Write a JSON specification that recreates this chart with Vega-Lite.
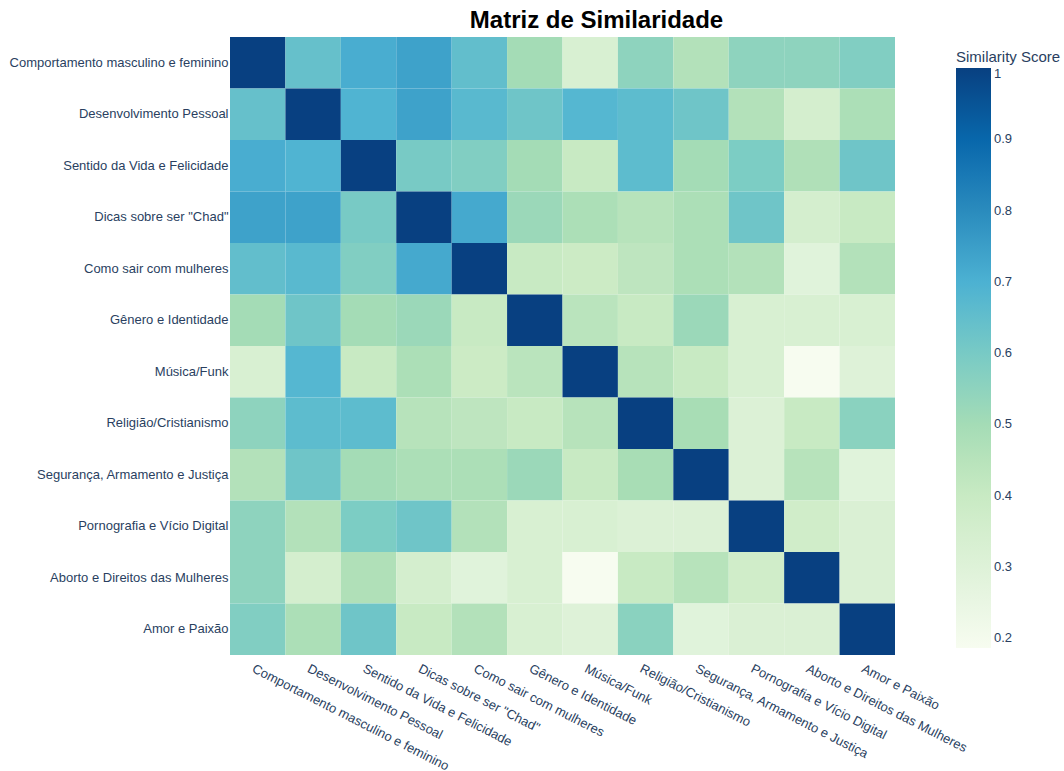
{
  "$schema": "https://vega.github.io/schema/vega-lite/v6.json",
  "autosize": {"type": "none"},
  "padding": {"left": 230, "top": 37, "right": 169, "bottom": 116},
  "width": 665,
  "height": 618,
  "background": "white",
  "title": {"text": "Matriz de Similaridade", "font": "Liberation Sans", "fontSize": 24, "fontWeight": "bold", "color": "#000000", "anchor": "middle", "dx": 34, "offset": 4},
  "config": {"view": {"stroke": null}},
  "datasets": {
    "m": [
      {"y":"Comportamento masculino e feminino","x":"Comportamento masculino e feminino","v":1},
      {"y":"Comportamento masculino e feminino","x":"Desenvolvimento Pessoal","v":0.64},
      {"y":"Comportamento masculino e feminino","x":"Sentido da Vida e Felicidade","v":0.71},
      {"y":"Comportamento masculino e feminino","x":"Dicas sobre ser \"Chad\"","v":0.74},
      {"y":"Comportamento masculino e feminino","x":"Como sair com mulheres","v":0.65},
      {"y":"Comportamento masculino e feminino","x":"Gênero e Identidade","v":0.50},
      {"y":"Comportamento masculino e feminino","x":"Música/Funk","v":0.33},
      {"y":"Comportamento masculino e feminino","x":"Religião/Cristianismo","v":0.55},
      {"y":"Comportamento masculino e feminino","x":"Segurança, Armamento e Justiça","v":0.46},
      {"y":"Comportamento masculino e feminino","x":"Pornografia e Vício Digital","v":0.55},
      {"y":"Comportamento masculino e feminino","x":"Aborto e Direitos das Mulheres","v":0.55},
      {"y":"Comportamento masculino e feminino","x":"Amor e Paixão","v":0.58},

      {"y":"Desenvolvimento Pessoal","x":"Comportamento masculino e feminino","v":0.64},
      {"y":"Desenvolvimento Pessoal","x":"Desenvolvimento Pessoal","v":1},
      {"y":"Desenvolvimento Pessoal","x":"Sentido da Vida e Felicidade","v":0.69},
      {"y":"Desenvolvimento Pessoal","x":"Dicas sobre ser \"Chad\"","v":0.74},
      {"y":"Desenvolvimento Pessoal","x":"Como sair com mulheres","v":0.67},
      {"y":"Desenvolvimento Pessoal","x":"Gênero e Identidade","v":0.62},
      {"y":"Desenvolvimento Pessoal","x":"Música/Funk","v":0.68},
      {"y":"Desenvolvimento Pessoal","x":"Religião/Cristianismo","v":0.66},
      {"y":"Desenvolvimento Pessoal","x":"Segurança, Armamento e Justiça","v":0.62},
      {"y":"Desenvolvimento Pessoal","x":"Pornografia e Vício Digital","v":0.46},
      {"y":"Desenvolvimento Pessoal","x":"Aborto e Direitos das Mulheres","v":0.35},
      {"y":"Desenvolvimento Pessoal","x":"Amor e Paixão","v":0.48},

      {"y":"Sentido da Vida e Felicidade","x":"Comportamento masculino e feminino","v":0.71},
      {"y":"Sentido da Vida e Felicidade","x":"Desenvolvimento Pessoal","v":0.69},
      {"y":"Sentido da Vida e Felicidade","x":"Sentido da Vida e Felicidade","v":1},
      {"y":"Sentido da Vida e Felicidade","x":"Dicas sobre ser \"Chad\"","v":0.60},
      {"y":"Sentido da Vida e Felicidade","x":"Como sair com mulheres","v":0.58},
      {"y":"Sentido da Vida e Felicidade","x":"Gênero e Identidade","v":0.50},
      {"y":"Sentido da Vida e Felicidade","x":"Música/Funk","v":0.40},
      {"y":"Sentido da Vida e Felicidade","x":"Religião/Cristianismo","v":0.66},
      {"y":"Sentido da Vida e Felicidade","x":"Segurança, Armamento e Justiça","v":0.50},
      {"y":"Sentido da Vida e Felicidade","x":"Pornografia e Vício Digital","v":0.59},
      {"y":"Sentido da Vida e Felicidade","x":"Aborto e Direitos das Mulheres","v":0.47},
      {"y":"Sentido da Vida e Felicidade","x":"Amor e Paixão","v":0.62},

      {"y":"Dicas sobre ser \"Chad\"","x":"Comportamento masculino e feminino","v":0.74},
      {"y":"Dicas sobre ser \"Chad\"","x":"Desenvolvimento Pessoal","v":0.74},
      {"y":"Dicas sobre ser \"Chad\"","x":"Sentido da Vida e Felicidade","v":0.60},
      {"y":"Dicas sobre ser \"Chad\"","x":"Dicas sobre ser \"Chad\"","v":1},
      {"y":"Dicas sobre ser \"Chad\"","x":"Como sair com mulheres","v":0.72},
      {"y":"Dicas sobre ser \"Chad\"","x":"Gênero e Identidade","v":0.52},
      {"y":"Dicas sobre ser \"Chad\"","x":"Música/Funk","v":0.48},
      {"y":"Dicas sobre ser \"Chad\"","x":"Religião/Cristianismo","v":0.45},
      {"y":"Dicas sobre ser \"Chad\"","x":"Segurança, Armamento e Justiça","v":0.48},
      {"y":"Dicas sobre ser \"Chad\"","x":"Pornografia e Vício Digital","v":0.62},
      {"y":"Dicas sobre ser \"Chad\"","x":"Aborto e Direitos das Mulheres","v":0.35},
      {"y":"Dicas sobre ser \"Chad\"","x":"Amor e Paixão","v":0.40},

      {"y":"Como sair com mulheres","x":"Comportamento masculino e feminino","v":0.65},
      {"y":"Como sair com mulheres","x":"Desenvolvimento Pessoal","v":0.67},
      {"y":"Como sair com mulheres","x":"Sentido da Vida e Felicidade","v":0.58},
      {"y":"Como sair com mulheres","x":"Dicas sobre ser \"Chad\"","v":0.72},
      {"y":"Como sair com mulheres","x":"Como sair com mulheres","v":1},
      {"y":"Como sair com mulheres","x":"Gênero e Identidade","v":0.40},
      {"y":"Como sair com mulheres","x":"Música/Funk","v":0.39},
      {"y":"Como sair com mulheres","x":"Religião/Cristianismo","v":0.43},
      {"y":"Como sair com mulheres","x":"Segurança, Armamento e Justiça","v":0.48},
      {"y":"Como sair com mulheres","x":"Pornografia e Vício Digital","v":0.46},
      {"y":"Como sair com mulheres","x":"Aborto e Direitos das Mulheres","v":0.29},
      {"y":"Como sair com mulheres","x":"Amor e Paixão","v":0.46},

      {"y":"Gênero e Identidade","x":"Comportamento masculino e feminino","v":0.50},
      {"y":"Gênero e Identidade","x":"Desenvolvimento Pessoal","v":0.62},
      {"y":"Gênero e Identidade","x":"Sentido da Vida e Felicidade","v":0.50},
      {"y":"Gênero e Identidade","x":"Dicas sobre ser \"Chad\"","v":0.52},
      {"y":"Gênero e Identidade","x":"Como sair com mulheres","v":0.40},
      {"y":"Gênero e Identidade","x":"Gênero e Identidade","v":1},
      {"y":"Gênero e Identidade","x":"Música/Funk","v":0.44},
      {"y":"Gênero e Identidade","x":"Religião/Cristianismo","v":0.40},
      {"y":"Gênero e Identidade","x":"Segurança, Armamento e Justiça","v":0.52},
      {"y":"Gênero e Identidade","x":"Pornografia e Vício Digital","v":0.33},
      {"y":"Gênero e Identidade","x":"Aborto e Direitos das Mulheres","v":0.33},
      {"y":"Gênero e Identidade","x":"Amor e Paixão","v":0.33},

      {"y":"Música/Funk","x":"Comportamento masculino e feminino","v":0.33},
      {"y":"Música/Funk","x":"Desenvolvimento Pessoal","v":0.68},
      {"y":"Música/Funk","x":"Sentido da Vida e Felicidade","v":0.40},
      {"y":"Música/Funk","x":"Dicas sobre ser \"Chad\"","v":0.48},
      {"y":"Música/Funk","x":"Como sair com mulheres","v":0.39},
      {"y":"Música/Funk","x":"Gênero e Identidade","v":0.44},
      {"y":"Música/Funk","x":"Música/Funk","v":1},
      {"y":"Música/Funk","x":"Religião/Cristianismo","v":0.45},
      {"y":"Música/Funk","x":"Segurança, Armamento e Justiça","v":0.40},
      {"y":"Música/Funk","x":"Pornografia e Vício Digital","v":0.33},
      {"y":"Música/Funk","x":"Aborto e Direitos das Mulheres","v":0.187},
      {"y":"Música/Funk","x":"Amor e Paixão","v":0.30},

      {"y":"Religião/Cristianismo","x":"Comportamento masculino e feminino","v":0.55},
      {"y":"Religião/Cristianismo","x":"Desenvolvimento Pessoal","v":0.66},
      {"y":"Religião/Cristianismo","x":"Sentido da Vida e Felicidade","v":0.66},
      {"y":"Religião/Cristianismo","x":"Dicas sobre ser \"Chad\"","v":0.45},
      {"y":"Religião/Cristianismo","x":"Como sair com mulheres","v":0.43},
      {"y":"Religião/Cristianismo","x":"Gênero e Identidade","v":0.40},
      {"y":"Religião/Cristianismo","x":"Música/Funk","v":0.45},
      {"y":"Religião/Cristianismo","x":"Religião/Cristianismo","v":1},
      {"y":"Religião/Cristianismo","x":"Segurança, Armamento e Justiça","v":0.49},
      {"y":"Religião/Cristianismo","x":"Pornografia e Vício Digital","v":0.31},
      {"y":"Religião/Cristianismo","x":"Aborto e Direitos das Mulheres","v":0.40},
      {"y":"Religião/Cristianismo","x":"Amor e Paixão","v":0.56},

      {"y":"Segurança, Armamento e Justiça","x":"Comportamento masculino e feminino","v":0.46},
      {"y":"Segurança, Armamento e Justiça","x":"Desenvolvimento Pessoal","v":0.62},
      {"y":"Segurança, Armamento e Justiça","x":"Sentido da Vida e Felicidade","v":0.50},
      {"y":"Segurança, Armamento e Justiça","x":"Dicas sobre ser \"Chad\"","v":0.48},
      {"y":"Segurança, Armamento e Justiça","x":"Como sair com mulheres","v":0.48},
      {"y":"Segurança, Armamento e Justiça","x":"Gênero e Identidade","v":0.52},
      {"y":"Segurança, Armamento e Justiça","x":"Música/Funk","v":0.40},
      {"y":"Segurança, Armamento e Justiça","x":"Religião/Cristianismo","v":0.49},
      {"y":"Segurança, Armamento e Justiça","x":"Segurança, Armamento e Justiça","v":1},
      {"y":"Segurança, Armamento e Justiça","x":"Pornografia e Vício Digital","v":0.31},
      {"y":"Segurança, Armamento e Justiça","x":"Aborto e Direitos das Mulheres","v":0.45},
      {"y":"Segurança, Armamento e Justiça","x":"Amor e Paixão","v":0.29},

      {"y":"Pornografia e Vício Digital","x":"Comportamento masculino e feminino","v":0.55},
      {"y":"Pornografia e Vício Digital","x":"Desenvolvimento Pessoal","v":0.46},
      {"y":"Pornografia e Vício Digital","x":"Sentido da Vida e Felicidade","v":0.59},
      {"y":"Pornografia e Vício Digital","x":"Dicas sobre ser \"Chad\"","v":0.62},
      {"y":"Pornografia e Vício Digital","x":"Como sair com mulheres","v":0.46},
      {"y":"Pornografia e Vício Digital","x":"Gênero e Identidade","v":0.33},
      {"y":"Pornografia e Vício Digital","x":"Música/Funk","v":0.33},
      {"y":"Pornografia e Vício Digital","x":"Religião/Cristianismo","v":0.31},
      {"y":"Pornografia e Vício Digital","x":"Segurança, Armamento e Justiça","v":0.31},
      {"y":"Pornografia e Vício Digital","x":"Pornografia e Vício Digital","v":1},
      {"y":"Pornografia e Vício Digital","x":"Aborto e Direitos das Mulheres","v":0.37},
      {"y":"Pornografia e Vício Digital","x":"Amor e Paixão","v":0.32},

      {"y":"Aborto e Direitos das Mulheres","x":"Comportamento masculino e feminino","v":0.55},
      {"y":"Aborto e Direitos das Mulheres","x":"Desenvolvimento Pessoal","v":0.35},
      {"y":"Aborto e Direitos das Mulheres","x":"Sentido da Vida e Felicidade","v":0.47},
      {"y":"Aborto e Direitos das Mulheres","x":"Dicas sobre ser \"Chad\"","v":0.35},
      {"y":"Aborto e Direitos das Mulheres","x":"Como sair com mulheres","v":0.29},
      {"y":"Aborto e Direitos das Mulheres","x":"Gênero e Identidade","v":0.33},
      {"y":"Aborto e Direitos das Mulheres","x":"Música/Funk","v":0.187},
      {"y":"Aborto e Direitos das Mulheres","x":"Religião/Cristianismo","v":0.40},
      {"y":"Aborto e Direitos das Mulheres","x":"Segurança, Armamento e Justiça","v":0.45},
      {"y":"Aborto e Direitos das Mulheres","x":"Pornografia e Vício Digital","v":0.37},
      {"y":"Aborto e Direitos das Mulheres","x":"Aborto e Direitos das Mulheres","v":1},
      {"y":"Aborto e Direitos das Mulheres","x":"Amor e Paixão","v":0.32},

      {"y":"Amor e Paixão","x":"Comportamento masculino e feminino","v":0.58},
      {"y":"Amor e Paixão","x":"Desenvolvimento Pessoal","v":0.48},
      {"y":"Amor e Paixão","x":"Sentido da Vida e Felicidade","v":0.62},
      {"y":"Amor e Paixão","x":"Dicas sobre ser \"Chad\"","v":0.40},
      {"y":"Amor e Paixão","x":"Como sair com mulheres","v":0.46},
      {"y":"Amor e Paixão","x":"Gênero e Identidade","v":0.33},
      {"y":"Amor e Paixão","x":"Música/Funk","v":0.30},
      {"y":"Amor e Paixão","x":"Religião/Cristianismo","v":0.56},
      {"y":"Amor e Paixão","x":"Segurança, Armamento e Justiça","v":0.29},
      {"y":"Amor e Paixão","x":"Pornografia e Vício Digital","v":0.32},
      {"y":"Amor e Paixão","x":"Aborto e Direitos das Mulheres","v":0.32},
      {"y":"Amor e Paixão","x":"Amor e Paixão","v":1}
    ]
  },
  "data": {"name": "m"},
  "mark": {"type": "rect", "strokeWidth": 0},
  "encoding": {
    "x": {
      "field": "x", "type": "nominal", "sort": null,
      "scale": {"paddingInner": 0, "paddingOuter": 0},
      "axis": {"title": null, "ticks": false, "domain": false, "grid": false, "labelAngle": 27, "labelAlign": "left", "labelBaseline": "top", "labelPadding": 7, "labelOffset": -2, "labelFont": "Liberation Sans", "labelFontSize": 13, "labelColor": "#2a3f5f", "labelLimit": 0, "labelOverlap": false}
    },
    "y": {
      "field": "y", "type": "nominal", "sort": null,
      "scale": {"paddingInner": 0, "paddingOuter": 0},
      "axis": {"title": null, "ticks": false, "domain": false, "grid": false, "labelPadding": 2, "labelFont": "Liberation Sans", "labelFontSize": 13, "labelColor": "#2a3f5f", "labelLimit": 0}
    },
    "color": {
      "field": "v", "type": "quantitative",
      "scale": {
        "domain": [0.186, 0.28775, 0.3895, 0.49125, 0.593, 0.69475, 0.7965, 0.89825, 1.0],
        "range": ["rgb(247,252,240)", "rgb(224,243,219)", "rgb(204,235,197)", "rgb(168,221,181)", "rgb(123,204,196)", "rgb(78,179,211)", "rgb(43,140,190)", "rgb(8,104,172)", "rgb(8,64,129)"],
        "interpolate": "rgb"
      },
      "legend": {
        "title": "Similarity Score", "orient": "none", "legendX": 726, "legendY": 13, "direction": "vertical",
        "gradientLength": 580, "gradientThickness": 35, "gradientStrokeWidth": 0,
        "values": [0.2, 0.3, 0.4, 0.5, 0.6, 0.7, 0.8, 0.9, 1],
        "format": "~g",
        "titleFont": "Liberation Sans", "titleFontSize": 15, "titleFontWeight": "normal", "titleColor": "#2a3f5f", "titlePadding": 3, "titleLimit": 0,
        "labelFont": "Liberation Sans", "labelFontSize": 13, "labelColor": "#2a3f5f", "labelOffset": 3
      }
    }
  }
}
